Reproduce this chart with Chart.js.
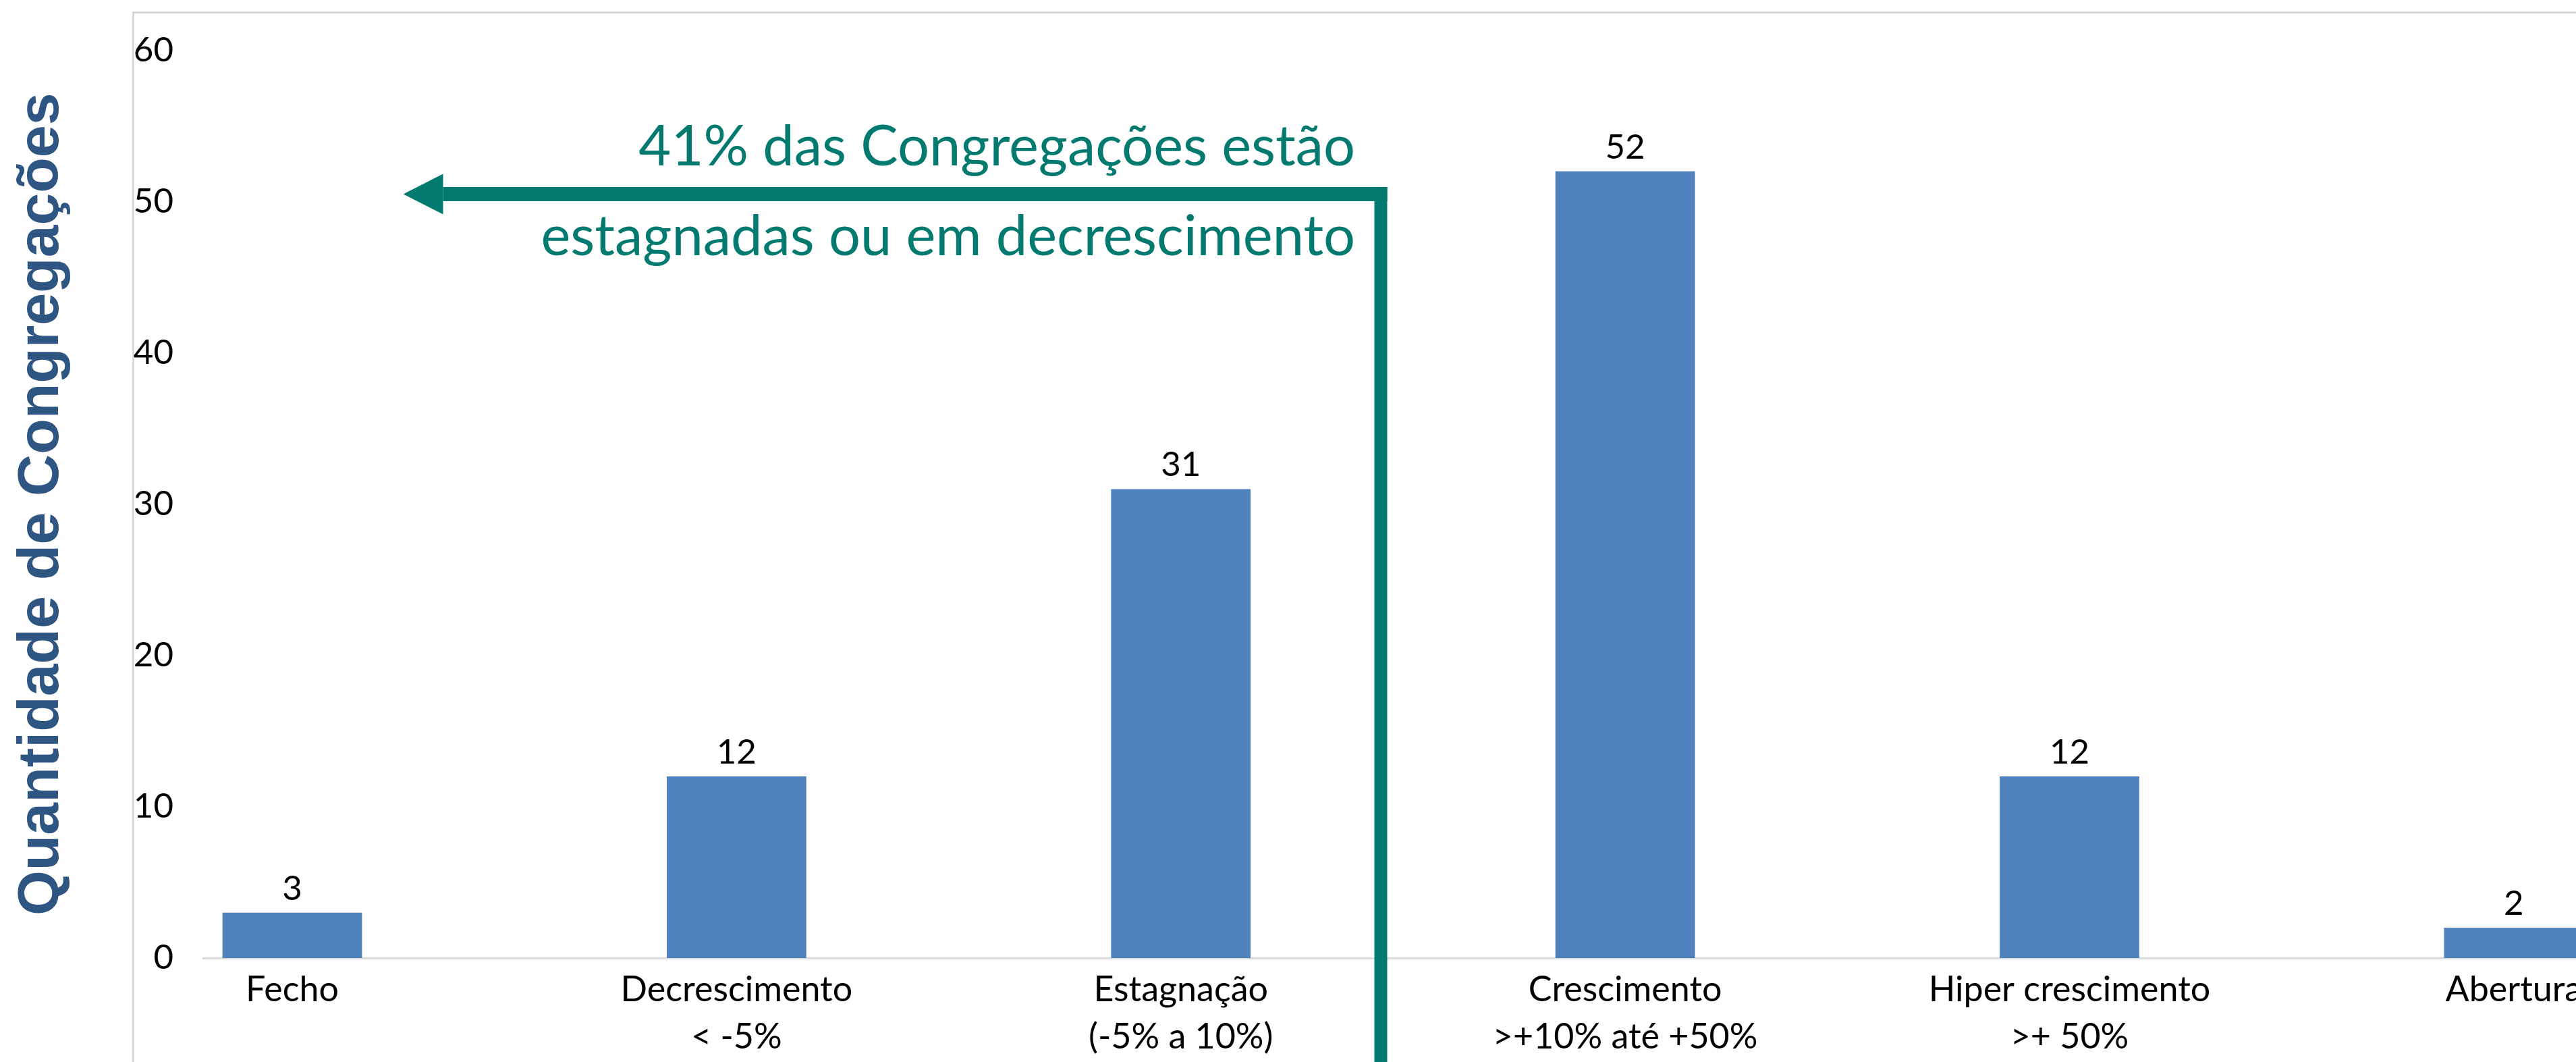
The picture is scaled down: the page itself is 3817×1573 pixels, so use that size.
<!DOCTYPE html>
<html>
<head>
<meta charset="utf-8">
<script src="https://cdn.jsdelivr.net/npm/chart.js@4.4.0/dist/chart.umd.min.js"></script>
<style>
  html, body { margin: 0; padding: 0; background: #ffffff; overflow: hidden; }
  #wrap { position: relative; width: 3817px; height: 1573px; }
  #frame { position: absolute; left: 196px; top: 17px; right: 0; bottom: 0; border-left: 3px solid #d9d9d9; border-top: 3px solid #d9d9d9; }
  canvas { position: absolute; left: 0; top: 0; }
</style>
</head>
<body>
<div id="wrap">
  <div id="frame"></div>
  <canvas id="myChart" width="3817" height="1573"></canvas>
</div>
<script>
let categories = [
    ['Fecho'],
    ['Decrescimento', '< -5%'],
    ['Estagnação', '(-5% a 10%)'],
    ['Crescimento', '>+10% até +50%'],
    ['Hiper crescimento', '>+ 50%'],
    ['Abertura']
];
let counts = [3, 12, 31, 52, 12, 2];
let yTicks = [0, 10, 20, 30, 40, 50, 60];
let yTitle = 'Quantidade de Congregações';
let calloutLines = ['41% das Congregações estão', 'estagnadas ou em decrescimento'];

let barColor = '#4f81bd';
let teal = '#027a6f';
let tickFont = { family: 'Lato', size: 52 };

Chart.defaults.color = '#000000';

// numbers above the bars
const barLabels = {
    id: 'barLabels',
    afterDatasetsDraw(chart) {
        let c = chart.ctx;
        let meta = chart.getDatasetMeta(0);
        c.save();
        c.font = '51px Lato';
        c.fillStyle = '#000000';
        c.textAlign = 'center';
        c.textBaseline = 'alphabetic';
        meta.data.forEach((bar, i) => {
            c.fillText(String(counts[i]), bar.x, bar.y - 19);
        });
        c.restore();
    }
};

// teal arrow + note
const callout = {
    id: 'callout',
    afterDraw(chart) {
        let xs = chart.scales.x, ys = chart.scales.y;
        let c = chart.ctx;
        let xv = xs.getPixelForValue(2.45);
        let yv = ys.getPixelForValue(50.5);
        let tip = xs.getPixelForValue(0.25);
        c.save();
        c.fillStyle = teal;
        c.fillRect(xv - 9.5, yv - 10.5, 19, chart.height - yv + 10.5);
        c.fillRect(tip + 59, yv - 10.5, xv + 9.5 - tip - 59, 21);
        c.beginPath();
        c.moveTo(tip, yv);
        c.lineTo(tip + 59, yv - 30);
        c.lineTo(tip + 59, yv + 30);
        c.closePath();
        c.fill();
        c.font = '83px Lato';
        c.textAlign = 'right';
        c.textBaseline = 'alphabetic';
        c.fillText(calloutLines[0], xv - 38, yv - 42);
        c.fillText(calloutLines[1], xv - 38, yv + 91);
        c.restore();
    }
};

let ctx = document.getElementById('myChart').getContext('2d');
let myChart = new Chart(ctx, {
    type: 'bar',
    data: {
        datasets: [{
            data: counts.map((v, i) => ({ x: i, y: v })),
            backgroundColor: barColor,
            borderWidth: 0,
            barPercentage: 0.314,
            categoryPercentage: 1
        }]
    },
    plugins: [barLabels, callout],
    options: {
        responsive: false,
        animation: false,
        layout: { padding: { left: 7, top: 74, right: 0, bottom: 0 } },
        plugins: {
            legend: { display: false },
            tooltip: { enabled: false }
        },
        scales: {
            x: {
                type: 'linear',
                offset: false,
                min: -0.2005,
                max: 5.14,
                grid: { display: false, drawTicks: false, offset: false },
                border: { display: true, color: '#d9d9d9', width: 3 },
                ticks: {
                    stepSize: 1,
                    includeBounds: false,
                    autoSkip: false,
                    maxRotation: 0,
                    padding: 12,
                    font: Object.assign({ lineHeight: 1.35 }, tickFont),
                    callback: function(value) {
                        return categories[value];
                    }
                },
                afterBuildTicks: function(scale) {
                    scale.ticks = scale.ticks.filter(t => Number.isInteger(t.value) && t.value >= 0 && t.value < categories.length);
                },
                afterFit: function(scale) {
                    scale.paddingLeft = 0;
                    scale.paddingRight = 0;
                    scale.height = 154;
                }
            },
            y: {
                min: yTicks[0],
                max: yTicks[yTicks.length - 1],
                grid: { display: false, drawTicks: false },
                border: { display: false },
                ticks: {
                    stepSize: yTicks[1] - yTicks[0],
                    padding: 44,
                    font: { family: 'Lato', size: 51 }
                },
                title: {
                    display: true,
                    text: yTitle,
                    color: '#2f5683',
                    font: { family: 'Liberation Sans', size: 86, weight: 'bold' },
                    padding: { top: 4, bottom: 4 }
                },
                afterFit: function(scale) {
                    scale.width = 294;
                }
            }
        }
    }
});
</script>
</body>
</html>
